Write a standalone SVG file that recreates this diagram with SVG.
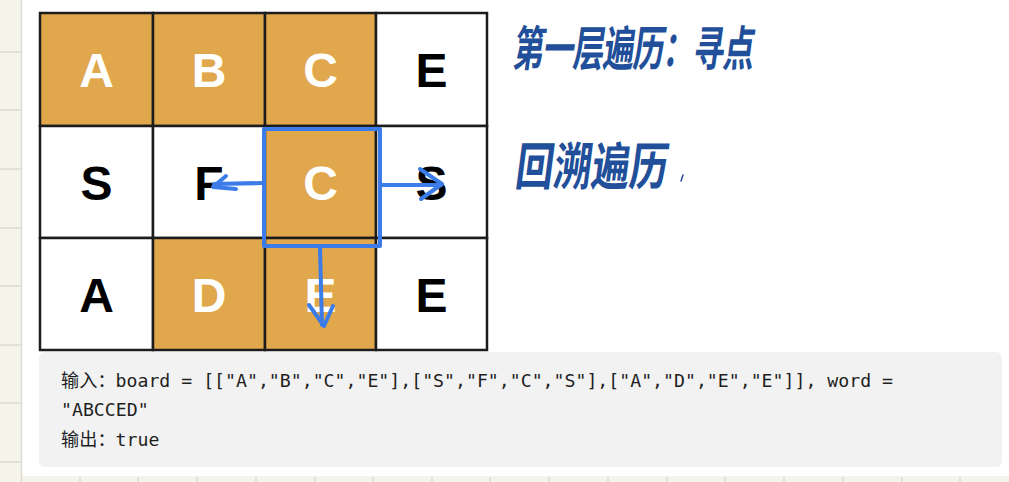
<svg xmlns="http://www.w3.org/2000/svg" width="1009" height="482" viewBox="0 0 1009 482">
  <style>
    .paper { fill: #f4f4eb; }
    .rule { stroke: #dcdcd2; stroke-width: 1.5; }
    .cell { stroke: #1c1c1c; stroke-width: 2.5; }
    .on { fill: #e0a74c; }
    .off { fill: #ffffff; }
    .lt { font-family: "Liberation Sans", Arial, sans-serif; font-weight: 700; font-size: 48px; text-anchor: middle; }
    .lt-on { fill: #ffffff; }
    .lt-off { fill: #000000; }
    .hand { font-family: "Noto Sans CJK SC", sans-serif; font-weight: 700; fill: #224f99; }
    .code { font-family: "DejaVu Sans Mono", "Noto Sans CJK SC", monospace; font-size: 18.2px; fill: #1f1f1f; }
    .blue { fill: none; stroke: #3b7ce8; stroke-width: 4; stroke-linecap: round; stroke-linejoin: round; }
  </style>

  <!-- background paper -->
  <rect x="0" y="0" width="1009" height="482" fill="#ffffff"/>
  <rect class="paper" x="0" y="0" width="21" height="482"/>
  <rect class="paper" x="0" y="476" width="1009" height="6"/>
  <g id="paper-rules">
    <line class="rule" x1="21.5" y1="0" x2="21.5" y2="482"/>
    <line class="rule" x1="0" y1="52" x2="21" y2="52"/>
    <line class="rule" x1="0" y1="110" x2="21" y2="110"/>
    <line class="rule" x1="0" y1="169" x2="21" y2="169"/>
    <line class="rule" x1="0" y1="228" x2="21" y2="228"/>
    <line class="rule" x1="0" y1="286" x2="21" y2="286"/>
    <line class="rule" x1="0" y1="345" x2="21" y2="345"/>
    <line class="rule" x1="0" y1="403" x2="21" y2="403"/>
    <line class="rule" x1="0" y1="462" x2="21" y2="462"/>
    <line class="rule" x1="80" y1="477" x2="80" y2="482"/>
    <line class="rule" x1="138" y1="477" x2="138" y2="482"/>
    <line class="rule" x1="197" y1="477" x2="197" y2="482"/>
    <line class="rule" x1="256" y1="477" x2="256" y2="482"/>
    <line class="rule" x1="315" y1="477" x2="315" y2="482"/>
    <line class="rule" x1="373" y1="477" x2="373" y2="482"/>
    <line class="rule" x1="432" y1="477" x2="432" y2="482"/>
    <line class="rule" x1="490" y1="477" x2="490" y2="482"/>
    <line class="rule" x1="549" y1="477" x2="549" y2="482"/>
    <line class="rule" x1="608" y1="477" x2="608" y2="482"/>
    <line class="rule" x1="667" y1="477" x2="667" y2="482"/>
    <line class="rule" x1="725" y1="477" x2="725" y2="482"/>
    <line class="rule" x1="784" y1="477" x2="784" y2="482"/>
    <line class="rule" x1="843" y1="477" x2="843" y2="482"/>
    <line class="rule" x1="902" y1="477" x2="902" y2="482"/>
    <line class="rule" x1="960" y1="477" x2="960" y2="482"/>
  </g>

  <!-- code box -->
  <g id="code-box">
    <rect x="39" y="352" width="963" height="115" rx="6" fill="#f2f2f2"/>
    <text class="code" x="61" y="387">输入：board = [["A","B","C","E"],["S","F","C","S"],["A","D","E","E"]], word =</text>
    <text class="code" x="61" y="416">"ABCCED"</text>
    <text class="code" x="61" y="446">输出：true</text>
  </g>

  <!-- grid cells -->
  <g id="cell-0-0"><rect class="cell on" x="40" y="13" width="113" height="113"/><text class="lt lt-on" x="96.5" y="87">A</text></g>
  <g id="cell-0-1"><rect class="cell on" x="153" y="13" width="112" height="113"/><text class="lt lt-on" x="209" y="87">B</text></g>
  <g id="cell-0-2"><rect class="cell on" x="265" y="13" width="111" height="113"/><text class="lt lt-on" x="320.5" y="87">C</text></g>
  <g id="cell-0-3"><rect class="cell off" x="376" y="13" width="111" height="113"/><text class="lt lt-off" x="431.5" y="87">E</text></g>

  <g id="cell-1-0"><rect class="cell off" x="40" y="126" width="113" height="112"/><text class="lt lt-off" x="96.5" y="199.5">S</text></g>
  <g id="cell-1-1"><rect class="cell off" x="153" y="126" width="112" height="112"/><text class="lt lt-off" x="209" y="199.5">F</text></g>
  <g id="cell-1-2"><rect class="cell on" x="265" y="126" width="111" height="112"/><text class="lt lt-on" x="320.5" y="199.5">C</text></g>
  <g id="cell-1-3"><rect class="cell off" x="376" y="126" width="111" height="112"/><text class="lt lt-off" x="431.5" y="199.5">S</text></g>

  <g id="cell-2-0"><rect class="cell off" x="40" y="238" width="113" height="112"/><text class="lt lt-off" x="96.5" y="311.5">A</text></g>
  <g id="cell-2-1"><rect class="cell on" x="153" y="238" width="112" height="112"/><text class="lt lt-on" x="209" y="311.5">D</text></g>
  <g id="cell-2-2"><rect class="cell on" x="265" y="238" width="111" height="112"/><text class="lt lt-on" x="320.5" y="311.5">E</text></g>
  <g id="cell-2-3"><rect class="cell off" x="376" y="238" width="111" height="112"/><text class="lt lt-off" x="431.5" y="311.5">E</text></g>

  <!-- highlight of current cell -->
  <g id="current-highlight">
    <rect class="blue" x="264" y="129" width="116" height="117" stroke-linecap="butt" stroke-linejoin="miter"/>
  </g>

  <!-- connectors -->
  <g id="connectors">
    <path class="blue" d="M262,183 L214,184"/>
    <path class="blue" d="M226,176 L213,187 L236,189"/>
    <path class="blue" d="M382,185 L441,185"/>
    <path class="blue" d="M420,169 L442,184 L421,199"/>
    <path class="blue" d="M320,248 L322,325"/>
    <path class="blue" d="M309,305 L324,326 L333,306"/>
  </g>

  <!-- handwritten notes -->
  <g id="note-1">
    <text class="hand" font-size="31" x="0" y="0" transform="translate(512,66) scale(1,1.55) skewX(-12)" letter-spacing="-1">第一层遍历：寻点</text>
  </g>
  <g id="note-2">
    <text class="hand" font-size="38" x="0" y="0" transform="translate(514,185) scale(1,1.35) skewX(-10)" letter-spacing="0">回溯遍历</text>
    <path d="M683,175 L681,181" stroke="#224f99" stroke-width="1.5" fill="none" stroke-linecap="round"/>
  </g>
</svg>
